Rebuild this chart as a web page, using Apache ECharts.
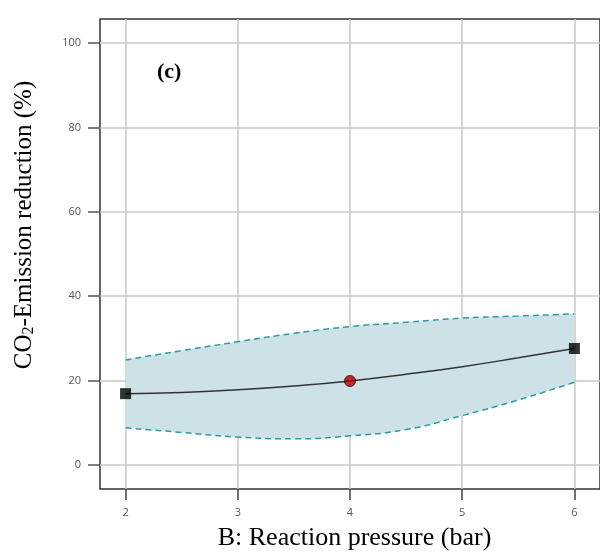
<!DOCTYPE html>
<html>
<head>
<meta charset="utf-8">
<script src="https://cdn.jsdelivr.net/npm/echarts@6/dist/echarts.min.js"></script>
<style>html,body{margin:0;padding:0;background:#fff}#c{width:600px;height:556px}</style>
</head>
<body>
<div id="c"></div>
<script>
// Data
const pressure = [2, 2.5, 3, 3.5, 4, 4.5, 5, 5.5, 6];
const predicted = [16.9, 17.2, 17.8, 18.7, 19.9, 21.5, 23.3, 25.4, 27.6];
const upperCI = [24.9, 27.1, 29.2, 31.2, 32.8, 33.8, 34.8, 35.3, 35.8];
const lowerCI = [8.8, 7.7, 6.6, 6.2, 6.9, 8.4, 11.7, 15.4, 19.6];
const designPointsX = [2, 6];
const designPointsY = [16.9, 27.6];
const centerPointX = [4];
const centerPointY = [19.9];
const xTicks = [2, 3, 4, 5, 6];
const yTicks = [0, 20, 40, 60, 80, 100];

const pairs = (xs, ys) => xs.map((x, i) => [x, ys[i]]);
// band: value first, pressure second so that stacking happens on the value dimension
const bandBase = pressure.map((x, i) => [lowerCI[i], x]);
const bandWidth = pressure.map((x, i) => [upperCI[i] - lowerCI[i], x]);

const chart = echarts.init(document.getElementById('c'), null, {renderer: 'canvas'});
const serif = '"Liberation Serif", "Times New Roman", serif';
chart.setOption({
  animation: false,
  grid: {left: 100, top: 19, right: -9, bottom: 67, show: true, borderColor: '#333', borderWidth: 1.5, backgroundColor: 'transparent'},
  xAxis: {
    type: 'value', min: 1.772, max: 6.228,
    name: 'B: Reaction pressure (bar)', nameLocation: 'middle', nameGap: 36,
    nameTextStyle: {fontFamily: serif, fontSize: 26, color: '#000', padding: [0, 0, 0, 9]},
    axisLine: {show: false, onZero: false},
    axisTick: {show: true, customValues: xTicks, length: 11, lineStyle: {color: '#444', width: 1.5}},
    axisLabel: {customValues: xTicks, margin: 18, color: '#555', fontSize: 11, fontFamily: '"Open Sans", sans-serif'},
    splitLine: {show: true, lineStyle: {color: '#c8c8c8', width: 1.5}}
  },
  yAxis: {
    type: 'value', min: -5.7, max: 105.7,
    name: 'CO{sub|2}-Emission reduction (%)', nameLocation: 'middle', nameGap: 63, nameRotate: 90,
    nameTextStyle: {fontFamily: serif, fontSize: 25, color: '#000', padding: [0, 0, 0, 58],
      rich: {sub: {fontFamily: serif, fontSize: 16, verticalAlign: 'bottom', padding: [10, 0, 0, 0], color: '#000'}}},
    axisLine: {show: false, onZero: false},
    axisTick: {show: true, customValues: yTicks, length: 12, lineStyle: {color: '#555', width: 1.5}},
    axisLabel: {customValues: yTicks, margin: 19, color: '#555', fontSize: 11, fontFamily: '"Open Sans", sans-serif'},
    splitLine: {show: true, lineStyle: {color: '#c8c8c8', width: 1.5}}
  },
  graphic: [{
    type: 'text', left: 157, top: 61,
    style: {text: '(c)', font: 'bold 22px ' + serif, fill: '#000'}
  }],
  series: [
    {type: 'line', data: bandBase, encode: {x: 1, y: 0}, stack: 'band', smooth: true, symbol: 'none', lineStyle: {opacity: 0}, silent: true},
    {type: 'line', data: bandWidth, encode: {x: 1, y: 0}, stack: 'band', smooth: true, symbol: 'none', lineStyle: {opacity: 0}, areaStyle: {color: '#cce2e7', opacity: 1}, silent: true},
    {type: 'line', data: pairs(pressure, upperCI), smooth: true, symbol: 'none', lineStyle: {color: '#2f9aa6', width: 1.5, type: [6, 4]}},
    {type: 'line', data: pairs(pressure, lowerCI), smooth: true, symbol: 'none', lineStyle: {color: '#2f9aa6', width: 1.5, type: [6, 4]}},
    {type: 'line', data: pairs(pressure, predicted), smooth: true, symbol: 'none', lineStyle: {color: '#333', width: 1.5}},
    {type: 'scatter', data: pairs(designPointsX, designPointsY), symbol: 'rect', symbolSize: 11, itemStyle: {color: '#000'}, z: 5},
    {type: 'scatter', data: pairs(centerPointX, centerPointY), symbol: 'circle', symbolSize: 11, itemStyle: {color: '#b00000', borderColor: '#3a0000', borderWidth: 1}, z: 5}
  ]
});
</script>
</body>
</html>
